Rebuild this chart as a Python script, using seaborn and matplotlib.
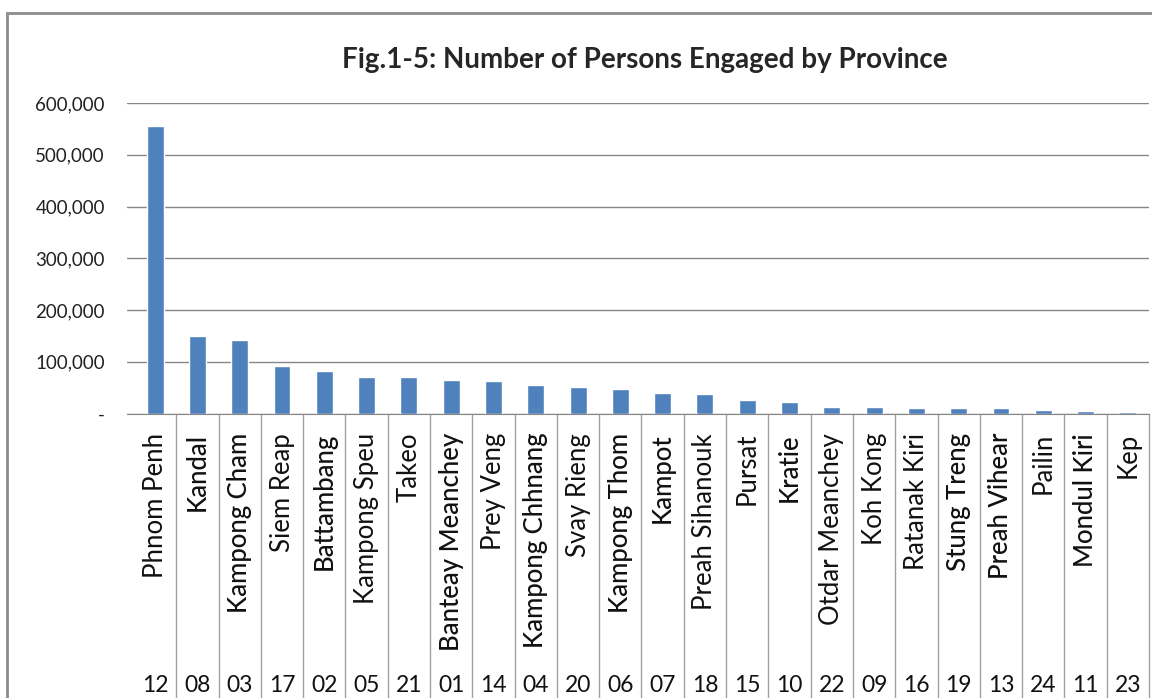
import seaborn as sns
import pandas as pd
import matplotlib.pyplot as plt
from matplotlib.ticker import FuncFormatter
from matplotlib.patches import Rectangle
import matplotlib.transforms as mtransforms

provinces = ['Phnom Penh', 'Kandal', 'Kampong Cham', 'Siem Reap', 'Battambang',
             'Kampong Speu', 'Takeo', 'Banteay Meanchey', 'Prey Veng', 'Kampong Chhnang',
             'Svay Rieng', 'Kampong Thom', 'Kampot', 'Preah Sihanouk', 'Pursat', 'Kratie',
             'Otdar Meanchey', 'Koh Kong', 'Ratanak Kiri', 'Stung Treng', 'Preah Vihear',
             'Pailin', 'Mondul Kiri', 'Kep']
codes = ['12', '08', '03', '17', '02', '05', '21', '01', '14', '04', '20', '06',
         '07', '18', '15', '10', '22', '09', '16', '19', '13', '24', '11', '23']
persons = [555000, 149500, 142500, 91000, 83000, 71000, 70000, 65500, 63000, 55500,
           50500, 48000, 40500, 38000, 25500, 23000, 13500, 13000, 11000, 11000,
           10500, 7500, 5000, 3000]
yticks = [0, 100000, 200000, 300000, 400000, 500000, 600000]
# labels that print darker in the original scan
darker = ['Kandal', 'Kampong Cham', 'Battambang', 'Banteay Meanchey', 'Kampong Chhnang',
          'Kampong Thom', 'Kampot', 'Kratie', 'Stung Treng', 'Preah Vihear', 'Mondul Kiri']

df = pd.DataFrame({'province': provinces, 'persons': persons})

sns.set_style("white")
plt.rcParams['font.family'] = ['Lato', 'DejaVu Sans']

fig = plt.figure(figsize=(11.52, 6.98), dpi=100)
ax = fig.add_axes([127/1152, 1 - 413.5/698, 1022/1152, 310.5/698])

sns.barplot(data=df, x='province', y='persons', color='#4F81BD', saturation=1,
            width=0.4, ax=ax)

ax.set_ylim(0, 600000)
ax.set_xlim(-0.665, 23.5)
ax.set_yticks(yticks)
ax.yaxis.set_major_formatter(FuncFormatter(lambda v, p: '-' if v == 0 else f'{v:,.0f}'))
ax.grid(axis='y', color='#868686', lw=1)
ax.set_axisbelow(True)
for s in ['left', 'right', 'top']:
    ax.spines[s].set_visible(False)
ax.spines['bottom'].set_color('#868686')
ax.set_xlabel('')
ax.set_ylabel('')
ax.tick_params(axis='y', length=0, pad=16, labelsize=13.5, labelcolor='#222222')
ax.tick_params(axis='x', length=0, pad=14, labelsize=18.5, labelcolor='#111111')
ax.set_xticks(range(len(provinces)))
ax.set_xticklabels(provinces, rotation=90, va='top', ha='center')
for lbl in ax.get_xticklabels():
    if lbl.get_text() in darker:
        lbl.set_fontweight('medium')

# table-style separators and province codes under the axis
trans = mtransforms.blended_transform_factory(ax.transData, ax.transAxes)
bottom = -(1 - 413.5/698) / (310.5/698) - 0.05
for k in range(1, len(provinces) + 1):
    ax.plot([k - 0.5, k - 0.5], [0, bottom], transform=trans, color='#A0A0A0',
            lw=1, clip_on=False)
for i, c in enumerate(codes):
    ax.text(i, -(685 - 413.5) / 310.5, c, transform=trans, ha='center', va='center',
            fontsize=16.5, color='#111111')

fig.text(645/1152, 1 - 60/698, 'Fig.1-5: Number of Persons Engaged by Province',
         ha='center', va='center', fontsize=20, fontweight='bold')

# outer chart frame (left and top edges visible)
fig.patches.append(Rectangle((7/1152, -0.1), 1.2, 1.1 - 13/698, transform=fig.transFigure,
                             fill=False, edgecolor='#8C8C8C', lw=2))

fig.savefig('out.png', dpi=100)
